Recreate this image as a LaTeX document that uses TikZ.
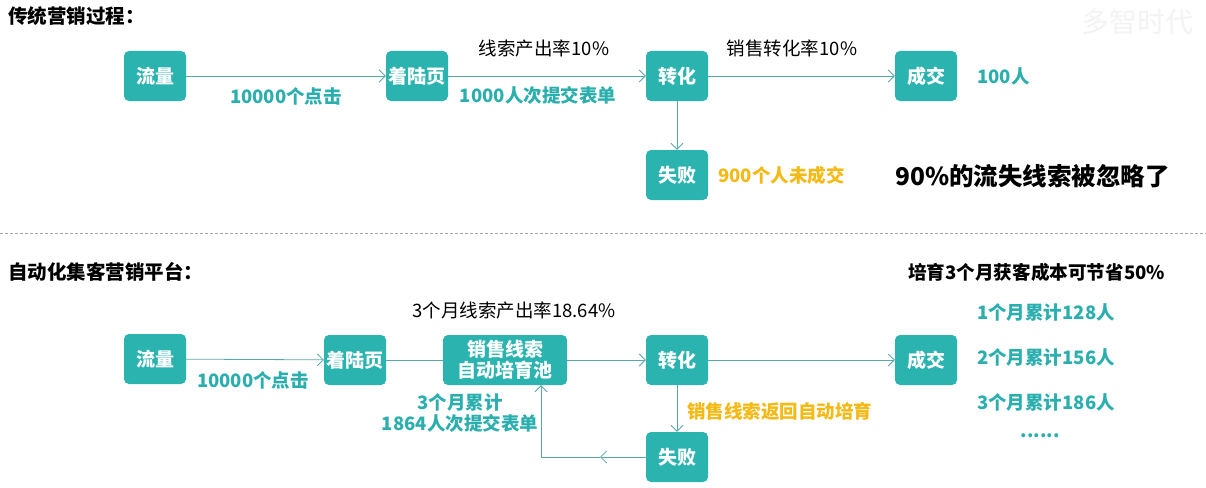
\documentclass[tikz,border=0pt]{standalone}
\usepackage{fontspec}
\setmainfont{Noto Sans CJK SC}
\usetikzlibrary{arrows.meta}
\definecolor{boxc}{HTML}{2BB3B0}
\definecolor{tealt}{HTML}{2AAFAE}
\definecolor{linec}{HTML}{5BA8A8}
\definecolor{yel}{HTML}{F5B914}
\definecolor{wm}{HTML}{F3F3F3}
\tikzset{
  box/.style={fill=boxc, rounded corners=5pt, minimum width=62pt, minimum height=50pt, text=white, font=\fontsize{19}{20}\selectfont\bfseries, inner sep=0pt, align=center},
  arr/.style={draw=linec, line width=0.8pt, -{Straight Barb[length=6pt,width=12pt,line width=0.8pt]}},
  ln/.style={draw=linec, line width=0.8pt},
  tl/.style={text=tealt, font=\fontsize{18.5}{21}\selectfont\bfseries, inner sep=0pt, align=center},
  yl/.style={text=yel, font=\fontsize{18.5}{20}\selectfont\bfseries, inner sep=0pt},
  bl/.style={text=black, font=\fontsize{18.5}{20}\selectfont, inner sep=0pt},
  ttl/.style={text=black, font=\fontsize{19.5}{20}\selectfont\bfseries, inner sep=0pt, anchor=west},
}
\begin{document}
\begin{tikzpicture}[x=1pt,y=-1pt]
\useasboundingbox[fill=white] (0,0) rectangle (1206,487);
% watermark
\node[text=wm, font=\fontsize{28}{30}\selectfont, inner sep=0pt] (wmk) at (1137,22) {多智时代};
% titles
\node[ttl] (t1) at (8,16) {传统营销过程：};
\node[ttl] (t2) at (8,272) {自动化集客营销平台：};
% dashed separator
\coordinate (dl) at (0,233);
\coordinate (dr) at (1206,233);
\draw[gray!70, line width=0.6pt, dash pattern=on 3pt off 2pt] (dl) -- (dr);

% ---- top ----
\node[box] (a1) at (155,76) {流量};
\node[box] (a2) at (417,76) {着陆页};
\node[box] (a3) at (677,76) {转化};
\node[box] (a4) at (926,76) {成交};
\node[box] (a5) at (677,175) {失败};
\draw[arr] (a1) -- (a2);
\draw[arr] (a2) -- (a3);
\draw[arr] (a3) -- (a4);
\draw[arr] (a3) -- (a5);
\node[tl] (l1) at (286,96) {10000个点击};
\node[bl] (l2) at (544,48) {线索产出率10\%};
\node[tl] (l3) at (538,95) {1000人次提交表单};
\node[bl] (l4) at (792,48) {销售转化率10\%};
\node[tl, anchor=west] (l5) at (977,76) {100人};
\node[yl, anchor=west] (l6) at (718,175) {900个人未成交};
\node[text=black, font=\fontsize{24.5}{26}\selectfont\bfseries, inner sep=0pt, anchor=west] (l7) at (895,176) {90\%的流失线索被忽略了};

% ---- bottom ----
\node[box] (b1) at (155,359) {流量};
\node[box] (b2) at (355,360) {着陆页};
\node[box, minimum width=124pt, font=\fontsize{19}{21}\selectfont\bfseries] (b3) at (505,360) {销售线索\\自动培育池};
\node[box] (b4) at (677,360) {转化};
\node[box] (b5) at (926,360) {成交};
\node[box] (b6) at (677,457) {失败};
\draw[arr] (b1) -- (b2);
\draw[ln] (b2) -- (b3);
\draw[arr] (b3) -- (b4);
\draw[arr] (b4) -- (b5);
\draw[arr] (b4) -- (b6);
\coordinate (m1) at (600,457);
\coordinate (c1) at (541,457);
\draw[arr] (b6.west) -- (m1);
\draw[arr] (m1) -- (c1) -- (c1 |- b3.south);
\node[bl] (k1) at (514,310) {3个月线索产出率18.64\%};
\node[tl] (k2) at (253,380) {10000个点击};
\node[tl] (k3) at (460,413) {3个月累计\\1864人次提交表单};
\node[yl, anchor=west] (k4) at (687,411) {销售线索返回自动培育};
\node[text=black, font=\fontsize{18.6}{20}\selectfont\bfseries, inner sep=0pt, anchor=west] (k5) at (908,272) {培育3个月获客成本可节省50\%};
\node[tl, anchor=west] (k6) at (977,312) {1个月累计128人};
\node[tl, anchor=west] (k7) at (977,357) {2个月累计156人};
\node[tl, anchor=west] (k8) at (977,402) {3个月累计186人};
\node[tl] (k9) at (1040,436) {......};
\end{tikzpicture}
\end{document}
